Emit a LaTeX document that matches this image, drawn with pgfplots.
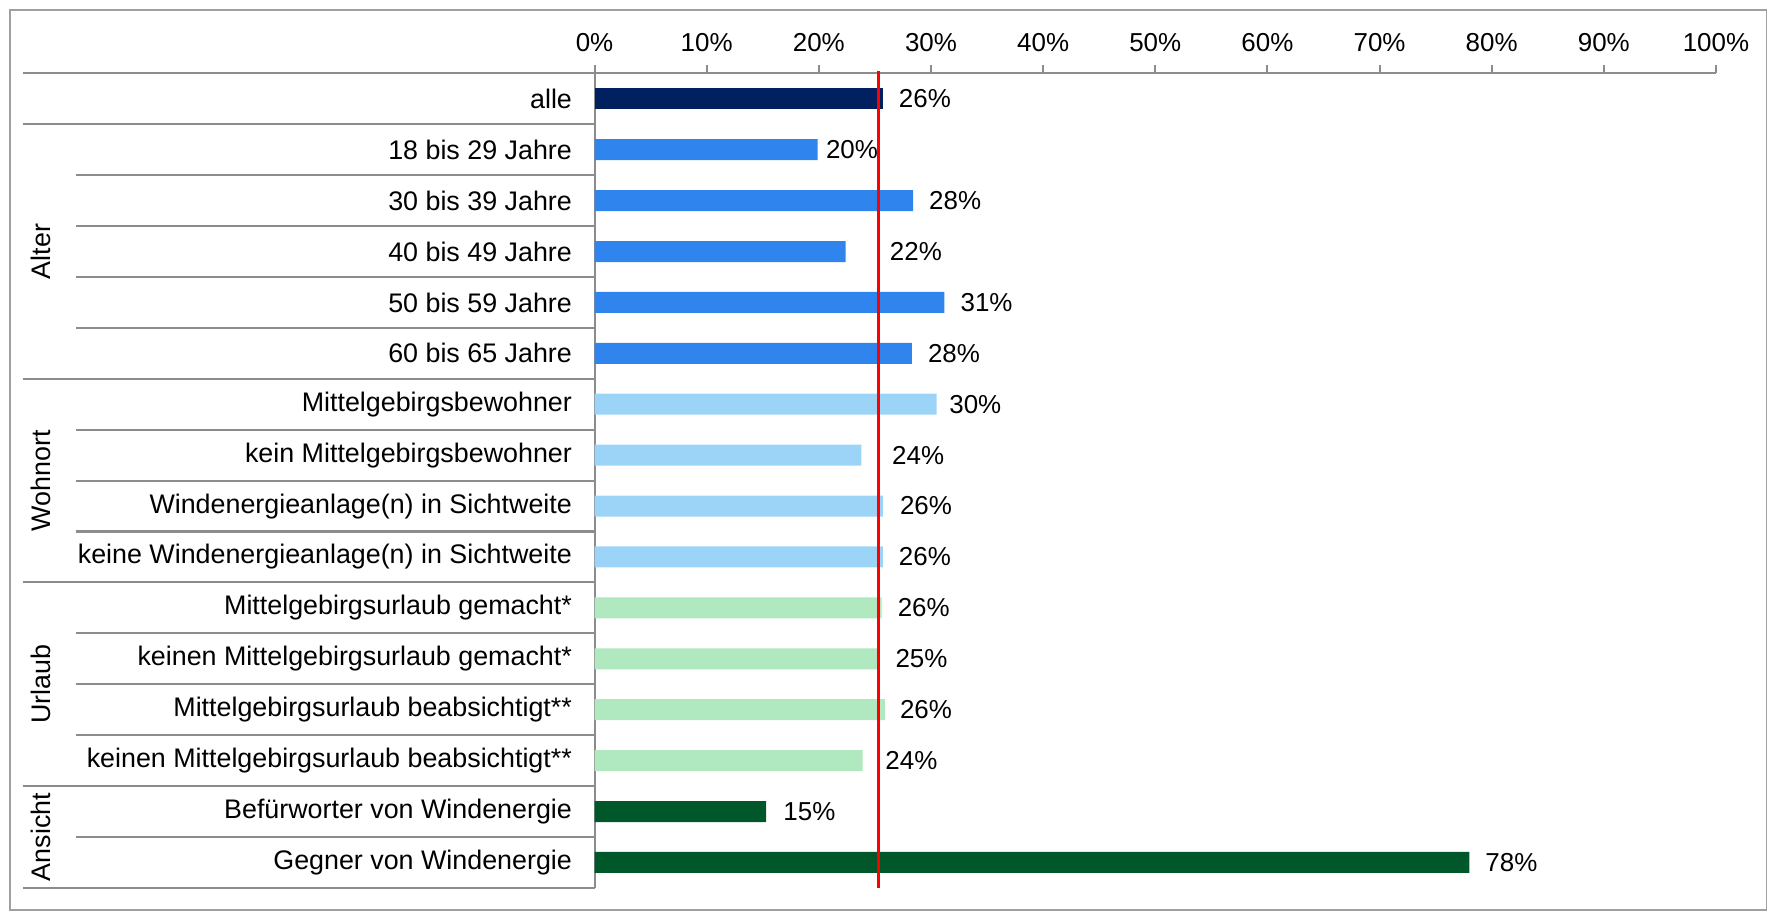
\documentclass[border=0pt]{standalone}
\usepackage{fontspec}
\setmainfont{Liberation Sans}
\usepackage{pgfplots}
\pgfplotsset{compat=1.18}
\definecolor{cAlle}{HTML}{002060}
\definecolor{cAlter}{HTML}{2F84EE}
\definecolor{cWohn}{HTML}{9CD4F8}
\definecolor{cUrl}{HTML}{B0E8C0}
\definecolor{cAns}{HTML}{00572A}
\definecolor{lineg}{HTML}{8C8C8C}
\definecolor{frameg}{HTML}{A0A0A0}
\begin{document}
\begin{tikzpicture}[font=\fontsize{11.5}{13.8}\selectfont]
\begin{axis}[name=ax, scale only axis, width=497pt, height=361pt,
  xmin=0, xmax=100, ymin=0.5, ymax=16.5, enlargelimits=false, clip=false,
  xbar, bar width=9.3pt, bar shift=0pt,
  axis x line*=top, axis y line*=left,
  axis line style={draw=lineg, line width=0.9pt, -},
  xtick={0,10,...,100},
  xticklabels={0\%,10\%,20\%,30\%,40\%,50\%,60\%,70\%,80\%,90\%,100\%},
  tick align=outside, major tick length=3.5pt,
  x tick style={lineg, line width=0.9pt},
  ytick={1,...,16},
  yticklabels={Gegner von Windenergie, Befürworter von Windenergie, keinen Mittelgebirgsurlaub beabsichtigt**, Mittelgebirgsurlaub beabsichtigt**, keinen Mittelgebirgsurlaub gemacht*, Mittelgebirgsurlaub gemacht*, keine Windenergieanlage(n) in Sichtweite, Windenergieanlage(n) in Sichtweite, kein Mittelgebirgsbewohner, Mittelgebirgsbewohner, 60 bis 65 Jahre, 50 bis 59 Jahre, 40 bis 49 Jahre, 30 bis 39 Jahre, 18 bis 29 Jahre, alle},
  y tick style={draw=none},
  yticklabel style={anchor=east, xshift=-3pt, font=\fontsize{11.9}{14}\selectfont},
  xticklabel style={yshift=2.5pt},
]
% frame and separators
\draw[frameg, line width=0.8pt] (axis cs:-52.1,0.06) rectangle (axis cs:104.5,17.74);
\pgfplotsinvokeforeach{16.5,15.5,10.5,6.5,2.5,0.5}
  {\draw[lineg, line width=0.9pt] (axis cs:-51,#1) -- (axis cs:0,#1);}
\pgfplotsinvokeforeach{14.5,13.5,12.5,11.5,9.5,8.5,7.5,5.5,4.5,3.5,1.5}
  {\draw[lineg, line width=0.9pt] (axis cs:-46.2,#1) -- (axis cs:0,#1);}
\begin{scope}[font=\fontsize{11.9}{14}\selectfont]
\node[rotate=90] at (axis cs:-49.4,13) {Alter};
\node[rotate=90] at (axis cs:-49.4,8.5) {Wohnort};
\node[rotate=90] at (axis cs:-49.4,4.5) {Urlaub};
\node[rotate=90] at (axis cs:-49.4,1.5) {Ansicht};
\end{scope}
% bars
\addplot[fill=cAlle, draw=none] coordinates {(25.7,16)};
\addplot[fill=cAlter, draw=none] coordinates {(19.9,15) (28.4,14) (22.4,13) (31.2,12) (28.3,11)};
\addplot[fill=cWohn, draw=none] coordinates {(30.5,10) (23.8,9) (25.7,8) (25.7,7)};
\addplot[fill=cUrl, draw=none] coordinates {(25.6,6) (25.3,5) (25.9,4) (23.9,3)};
\addplot[fill=cAns, draw=none] coordinates {(15.3,2) (78.0,1)};
% reference line
\addplot[sharp plot, draw=red, line width=1.4pt, mark=none] coordinates {(25.35,0.5) (25.35,16.55)};
% value labels
\addplot[only marks, mark=none, point meta=explicit symbolic,
  nodes near coords={\pgfplotspointmeta\%},
  nodes near coords style={anchor=west, inner sep=0pt, black}]
  table[x=x, y=y, meta=lab] {
x y lab
27.1 16 26
20.6 15 20
29.8 14 28
26.3 13 22
32.6 12 31
29.7 11 28
31.6 10 30
26.5 9 24
27.2 8 26
27.1 7 26
27.0 6 26
26.8 5 25
27.2 4 26
25.9 3 24
16.8 2 15
79.4 1 78
};
\end{axis}
\pgfresetboundingbox
\useasboundingbox (ax.south west) ++(-263.5pt,-10.5pt) rectangle ++(784pt,404pt);
\end{tikzpicture}
\end{document}
